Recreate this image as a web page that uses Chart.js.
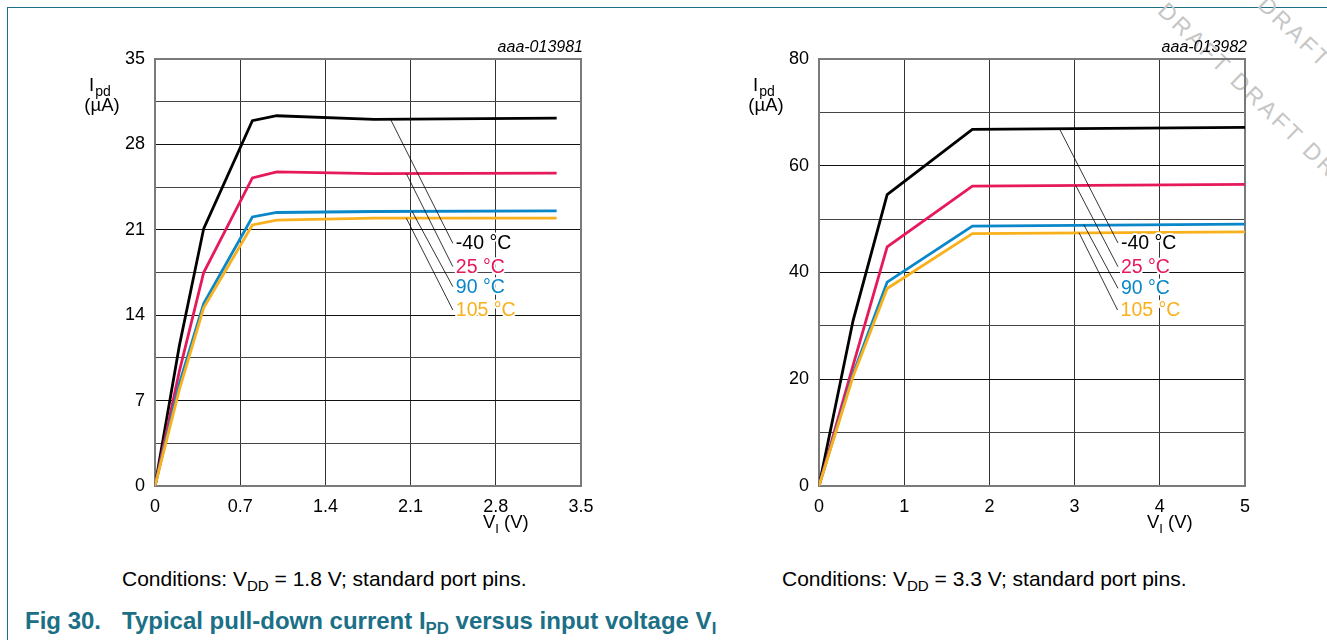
<!DOCTYPE html>
<html>
<head>
<meta charset="utf-8">
<script src="https://cdn.jsdelivr.net/npm/chart.js@4/dist/chart.umd.min.js"></script>
<style>
  html, body { margin:0; padding:0; background:#fff; }
  body { width:1327px; height:640px; position:relative; overflow:hidden; font-family:"Liberation Sans", Arial, sans-serif; }
  .frame { position:absolute; left:7px; top:7px; width:1330px; height:640px; border-top:1px solid #1b6f86; border-left:1px solid #1b6f86; }
  canvas { position:absolute; top:0; }
  #c1 { left:0; }
  #c2 { left:660px; }
  .cond { position:absolute; top:567px; font-size:21px; color:#000; white-space:nowrap; }
  .cond sub { font-size:0.72em; vertical-align:-0.3em; line-height:0; }
  .title { position:absolute; top:607px; font-size:24px; font-weight:bold; color:#1b6f86; white-space:nowrap; }
  .title sub { font-size:0.7em; vertical-align:-0.3em; line-height:0; }
  .wm { position:absolute; transform-origin:0 0; transform:rotate(44deg); font-size:23px; letter-spacing:3px; color:#c6c6c6; white-space:nowrap; line-height:24px; }
</style>
</head>
<body>
<div class="frame"></div>
<div class="wm" style="left:1098px; top:-72px;">DRAFT DRAFT DRAFT DRAFT</div>
<div class="wm" style="left:1198px; top:-78px;">DRAFT DRAFT DRAFT DRAFT</div>
<canvas id="c1" width="660" height="540"></canvas>
<canvas id="c2" width="667" height="540"></canvas>
<div class="cond" style="left:122px;">Conditions: V<sub>DD</sub> = 1.8 V; standard port pins.</div>
<div class="cond" style="left:782px;">Conditions: V<sub>DD</sub> = 3.3 V; standard port pins.</div>
<div class="title" style="left:25px;">Fig 30.</div>
<div class="title" style="left:122px;">Typical pull-down current I<sub>PD</sub> versus input voltage V<sub>I</sub></div>
<script>
// ---------- data: left chart (VDD = 1.8 V) ----------
const vi1 = [0, 0.2, 0.4, 0.8, 1.0, 1.8, 3.3];
const ipdM40_1 = [0, 11.5, 21.1, 29.95, 30.35, 30.05, 30.15];
const ipd25_1  = [0, 9.4, 17.5, 25.25, 25.75, 25.6, 25.65];
const ipd90_1  = [0, 8.4, 14.95, 22.05, 22.42, 22.5, 22.55];
const ipd105_1 = [0, 7.9, 14.6, 21.4, 21.8, 21.95, 21.95];
const xTicks1 = ['0', '0.7', '1.4', '2.1', '2.8', '3.5'];
const yTicks1 = ['0', '7', '14', '21', '28', '35'];

// ---------- data: right chart (VDD = 3.3 V) ----------
const vi2 = [0, 0.4, 0.8, 1.8, 5.0];
const ipdM40_2 = [0, 31.0, 54.6, 66.8, 67.2];
const ipd25_2  = [0, 22.6, 44.8, 56.2, 56.5];
const ipd90_2  = [0, 21.0, 38.2, 48.7, 49.05];
const ipd105_2 = [0, 20.5, 37.0, 47.3, 47.6];
const xTicks2 = ['0', '1', '2', '3', '4', '5'];
const yTicks2 = ['0', '20', '40', '60', '80'];

// ---------- series labels ----------
const tempLabels = ['-40 °C', '25 °C', '90 °C', '105 °C'];
const tempColors = ['#000000', '#e61a5b', '#0a87c9', '#f8b11d'];

// ---------- leader lines (data units) ----------
const leadStartX1 = [1.934, 2.065, 2.11, 2.065];
const leadStartY1 = [30.08, 25.6, 22.55, 21.95];
const leadEndX1   = [2.447, 2.447, 2.447, 2.447];
const leadEndY1   = [19.89, 17.98, 16.34, 14.43];
const leadStartX2 = [2.823, 3.012, 3.108, 3.052];
const leadStartY2 = [66.9, 56.35, 48.95, 47.45];
const leadEndX2   = [3.509, 3.509, 3.509, 3.504];
const leadEndY2   = [45.53, 41.09, 37.04, 32.97];

const FONT = '"Liberation Sans", Arial, sans-serif';

function pts(xs, ys) { return xs.map((x, i) => ({ x: x, y: ys[i] })); }

const annotPlugin = {
  id: 'annot',
  beforeDatasetsDraw(chart, args, o) {
    const ctx = chart.ctx, a = chart.chartArea;
    ctx.save();
    ctx.strokeStyle = '#7a7a7a';
    ctx.lineWidth = 2;
    ctx.strokeRect(a.left, a.top, a.right - a.left, a.bottom - a.top);
    ctx.restore();
  },
  afterDatasetsDraw(chart, args, o) {
    const ctx = chart.ctx, a = chart.chartArea;
    const xs = chart.scales.x, ys = chart.scales.y;
    ctx.save();
    // temperature labels with white halo
    ctx.font = '19.5px ' + FONT;
    ctx.textBaseline = 'alphabetic';
    ctx.textAlign = 'left';
    ctx.lineJoin = 'round';
    for (let i = 0; i < tempLabels.length; i++) {
      const ex = xs.getPixelForValue(o.ex[i]), ey = ys.getPixelForValue(o.ey[i]);
      const tx = ex + 3, ty = ey + 6;
      ctx.lineWidth = 4;
      ctx.strokeStyle = '#fff';
      ctx.strokeText(tempLabels[i], tx, ty);
      ctx.fillStyle = tempColors[i];
      ctx.fillText(tempLabels[i], tx, ty);
    }
    // leader lines
    ctx.strokeStyle = '#000';
    ctx.lineWidth = 0.8;
    for (let i = 0; i < tempLabels.length; i++) {
      ctx.beginPath();
      ctx.moveTo(xs.getPixelForValue(o.sx[i]), ys.getPixelForValue(o.sy[i]));
      ctx.lineTo(xs.getPixelForValue(o.ex[i]), ys.getPixelForValue(o.ey[i]));
      ctx.stroke();
    }
    // figure id
    ctx.fillStyle = '#000';
    ctx.font = 'italic 16px ' + FONT;
    ctx.textAlign = 'right';
    ctx.fillText(o.fig, a.right + 2, a.top - 7);
    // y axis title: I_pd (µA)
    ctx.textAlign = 'left';
    ctx.font = '18.5px ' + FONT;
    const ix = a.left - 66, iy = a.top + 32;
    ctx.fillText('I', ix, iy);
    const iw = ctx.measureText('I').width;
    ctx.font = '14px ' + FONT;
    ctx.fillText('pd', ix + iw + 1, iy + 5);
    ctx.font = '18.5px ' + FONT;
    ctx.textAlign = 'center';
    ctx.fillText('(µA)', a.left - 53, a.top + 52);
    // x axis title: V_I (V)
    ctx.textAlign = 'left';
    const vx = a.right - 98, vy = a.bottom + 42;
    ctx.fillText('V', vx, vy);
    const vw = ctx.measureText('V').width;
    ctx.font = '13px ' + FONT;
    ctx.fillText('I', vx + vw, vy + 5);
    const sw = ctx.measureText('I').width;
    ctx.font = '18.5px ' + FONT;
    ctx.fillText(' (V)', vx + vw + sw, vy);
    ctx.restore();
  }
};

function makeChart(id, xs, series, xMax, xStep, yMax, yStep, yLabelStep, xLabels, yLabels, yWidth, padRight, ann) {
  const datasets = series.map((s, i) => ({
    label: tempLabels[i],
    data: pts(xs, s),
    borderColor: tempColors[i],
    backgroundColor: tempColors[i],
    borderWidth: 2.8,
    pointRadius: 0,
    tension: 0,
    fill: false,
    borderJoinStyle: 'miter'
  })).reverse();
  return new Chart(document.getElementById(id), {
    type: 'line',
    data: { datasets: datasets },
    plugins: [annotPlugin],
    options: {
      responsive: false,
      animation: false,
      devicePixelRatio: 1,
      layout: { padding: { left: 0, top: 59, right: padRight, bottom: 0 } },
      plugins: { legend: { display: false }, tooltip: { enabled: false }, annot: ann },
      scales: {
        x: {
          type: 'linear', min: 0, max: xMax,
          afterFit: (s) => { s.height = 54; },
          border: { display: false },
          grid: { color: '#333', lineWidth: 1, drawTicks: false },
          ticks: {
            stepSize: xStep, padding: 10, color: '#000',
            font: { size: 18, family: FONT },
            callback: (v) => { const k = Math.round(v / xStep); return xLabels[k] !== undefined ? xLabels[k] : ''; }
          }
        },
        y: {
          type: 'linear', min: 0, max: yMax,
          afterFit: (s) => { s.width = yWidth; },
          border: { display: false },
          grid: {
            drawTicks: false, lineWidth: 1,
            color: (c) => {
              const v = c.tick ? c.tick.value : 0;
              const r = v / yLabelStep;
              return Math.abs(r - Math.round(r)) < 1e-6 ? '#111' : '#444';
            }
          },
          ticks: {
            stepSize: yStep, padding: 10, color: '#000',
            font: { size: 18, family: FONT },
            callback: (v) => {
              const r = v / yLabelStep;
              if (Math.abs(r - Math.round(r)) > 1e-6) return '';
              const k = Math.round(r);
              return yLabels[k] !== undefined ? yLabels[k] : '';
            }
          }
        }
      }
    }
  });
}

makeChart('c1', vi1, [ipdM40_1, ipd25_1, ipd90_1, ipd105_1], 3.5, 0.7, 35, 3.5, 7, xTicks1, yTicks1, 155, 79,
  { sx: leadStartX1, sy: leadStartY1, ex: leadEndX1, ey: leadEndY1, fig: 'aaa-013981' });
makeChart('c2', vi2, [ipdM40_2, ipd25_2, ipd90_2, ipd105_2], 5, 1, 80, 10, 20, xTicks2, yTicks2, 159, 82,
  { sx: leadStartX2, sy: leadStartY2, ex: leadEndX2, ey: leadEndY2, fig: 'aaa-013982' });
</script>
</body>
</html>
